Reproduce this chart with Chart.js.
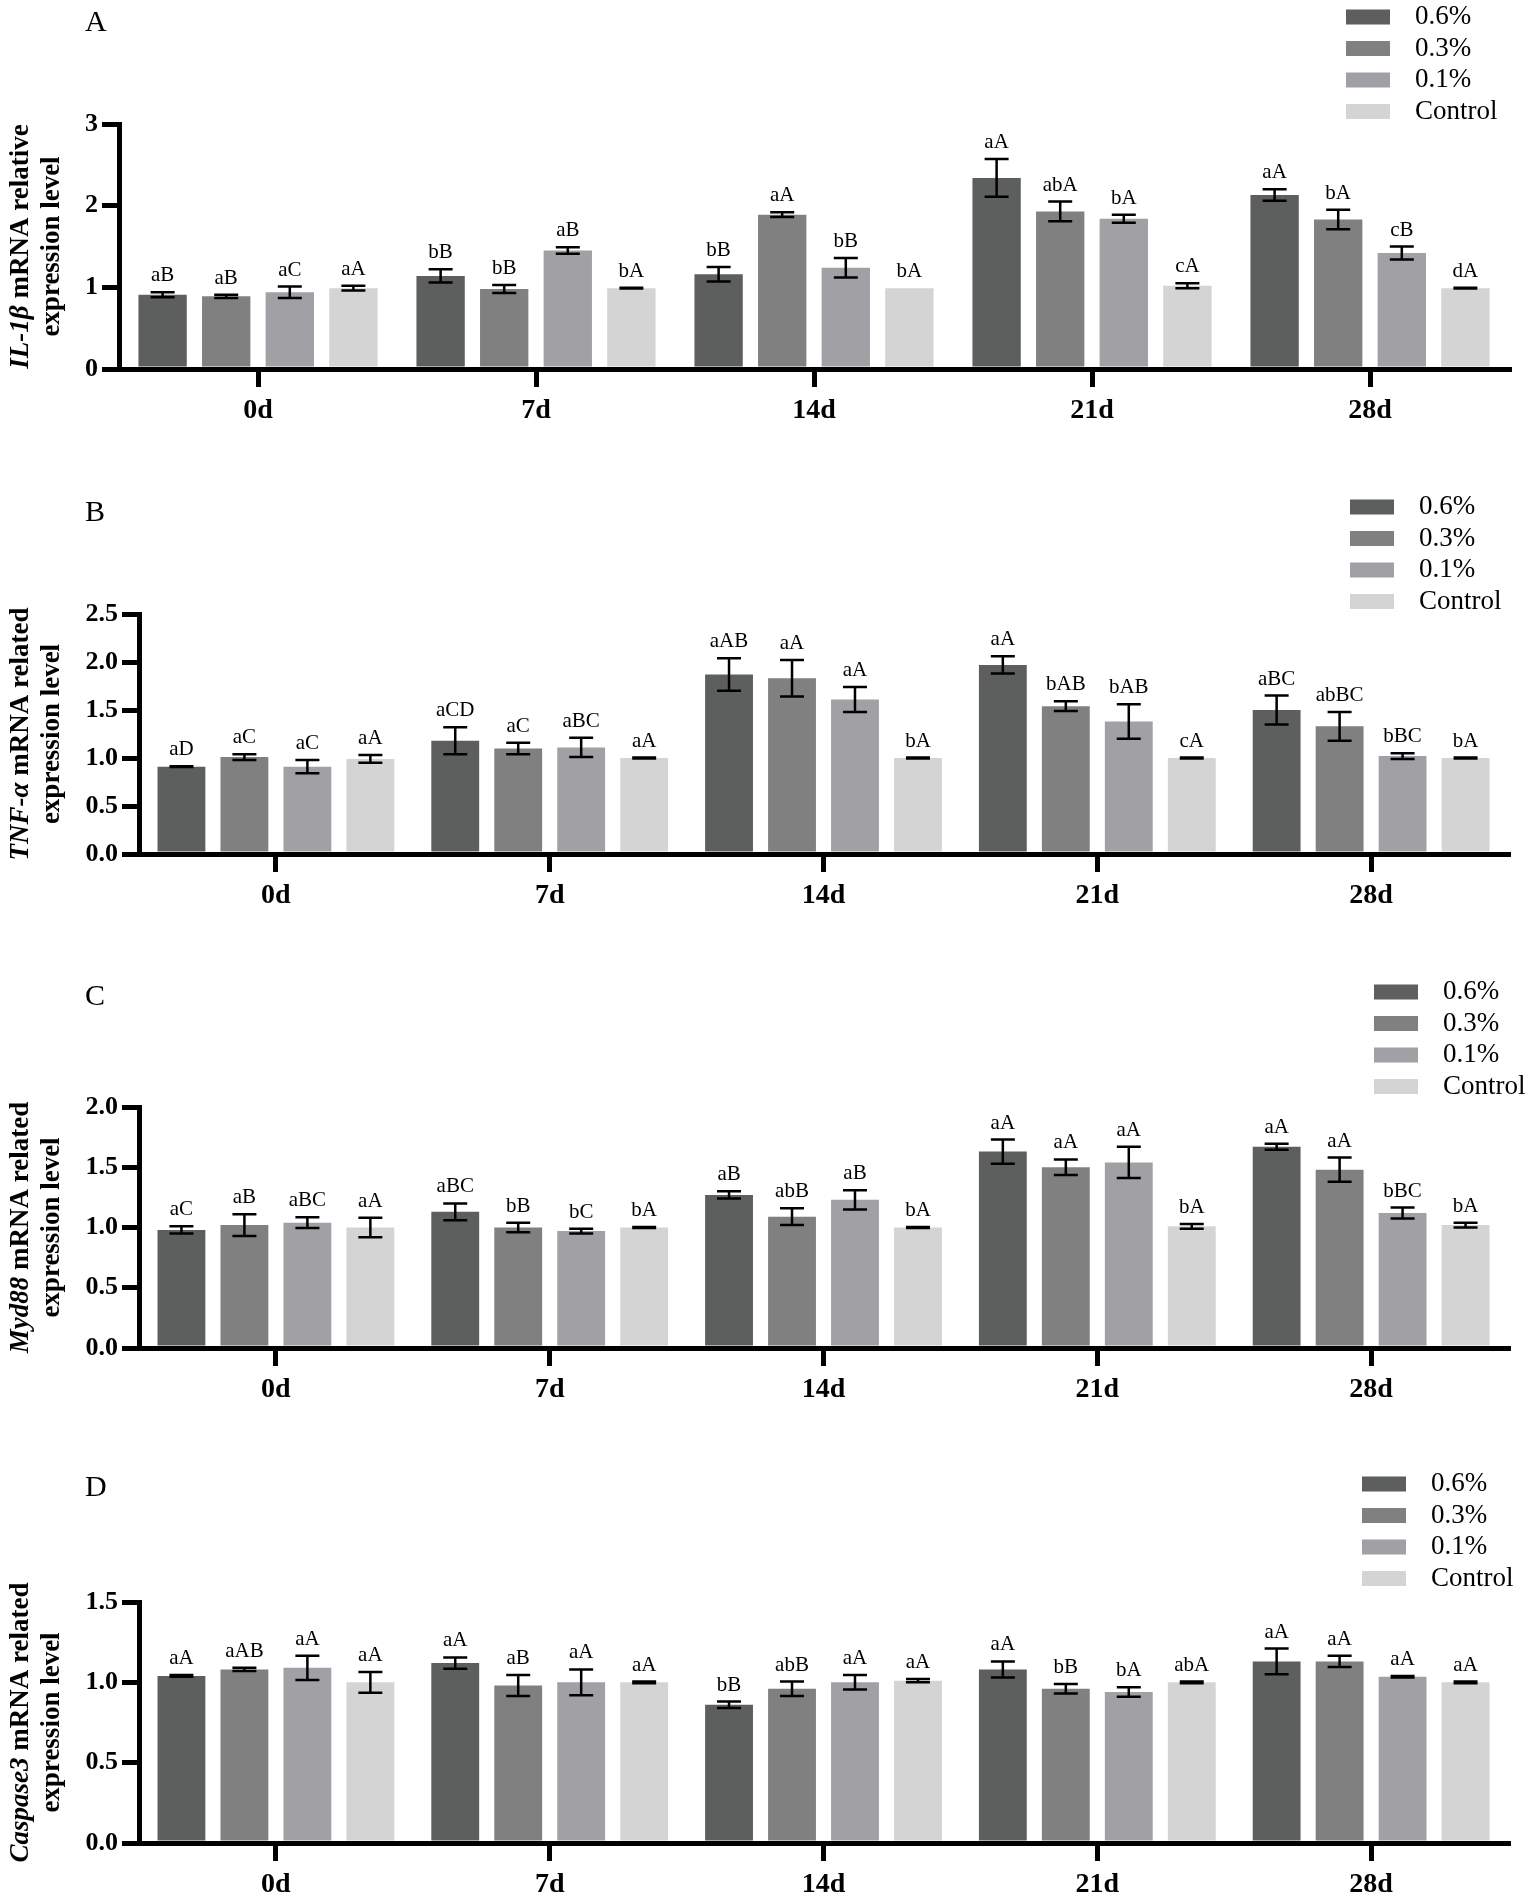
<!DOCTYPE html>
<html>
<head>
<meta charset="utf-8">
<title>IL-1β, TNF-α, Myd88, Caspase3 relative expression</title>
<script src="https://cdn.jsdelivr.net/npm/chart.js@4.4.0/dist/chart.umd.min.js"></script>
<style>
html, body { margin: 0; padding: 0; background: #fff; overflow: hidden; }
#page { position: relative; width: 1535px; height: 1898px; }
#page canvas { position: absolute; left: 0; }
</style>
</head>
<body>
<div id="page">
  <canvas id="chartA" width="1535" height="430" style="top:0px"></canvas>
  <canvas id="chartB" width="1535" height="456" style="top:464px"></canvas>
  <canvas id="chartC" width="1535" height="456" style="top:957px"></canvas>
  <canvas id="chartD" width="1535" height="446" style="top:1452px"></canvas>
</div>
<script>
var days = ['0d', '7d', '14d', '21d', '28d'];
var groups = ['0.6%', '0.3%', '0.1%', 'Control'];
var groupColors = ['#5d5f5e', '#808080', '#a1a1a5', '#d4d4d4'];

// A  IL-1β  (rows = groups, cols = days)
var il1bMean = [
  [0.91, 1.14, 1.16, 2.34, 2.13],
  [0.89, 0.98, 1.89, 1.93, 1.83],
  [0.94, 1.45, 1.24, 1.84, 1.42],
  [0.99, 0.99, 0.99, 1.02, 0.99]
];
var il1bErr = [
  [0.03, 0.08, 0.09, 0.23, 0.07],
  [0.02, 0.05, 0.03, 0.12, 0.12],
  [0.07, 0.04, 0.12, 0.05, 0.08],
  [0.03, 0.005, 0, 0.03, 0.005]
];
var il1bSig = [
  ['aB', 'bB', 'bB', 'aA', 'aA'],
  ['aB', 'bB', 'aA', 'abA', 'bA'],
  ['aC', 'aB', 'bB', 'bA', 'cB'],
  ['aA', 'bA', 'bA', 'cA', 'dA']
];
var il1bTicks = ['0', '1', '2', '3'];

// B  TNF-α
var tnfMean = [
  [0.91, 1.18, 1.87, 1.97, 1.50],
  [1.01, 1.10, 1.83, 1.54, 1.33],
  [0.91, 1.11, 1.61, 1.38, 1.02],
  [0.99, 1.00, 1.00, 1.00, 1.00]
];
var tnfErr = [
  [0.005, 0.14, 0.17, 0.09, 0.15],
  [0.03, 0.06, 0.19, 0.05, 0.15],
  [0.07, 0.10, 0.13, 0.18, 0.03],
  [0.04, 0.005, 0.005, 0.005, 0.005]
];
var tnfSig = [
  ['aD', 'aCD', 'aAB', 'aA', 'aBC'],
  ['aC', 'aC', 'aA', 'bAB', 'abBC'],
  ['aC', 'aBC', 'aA', 'bAB', 'bBC'],
  ['aA', 'aA', 'bA', 'cA', 'bA']
];
var tnfTicks = ['0.0', '0.5', '1.0', '1.5', '2.0', '2.5'];

// C  Myd88
var mydMean = [
  [0.98, 1.13, 1.27, 1.63, 1.67],
  [1.02, 1.00, 1.09, 1.50, 1.48],
  [1.04, 0.97, 1.23, 1.54, 1.12],
  [1.00, 1.00, 1.00, 1.01, 1.02]
];
var mydErr = [
  [0.03, 0.07, 0.03, 0.10, 0.025],
  [0.09, 0.04, 0.07, 0.065, 0.10],
  [0.045, 0.02, 0.08, 0.13, 0.045],
  [0.08, 0.005, 0.005, 0.02, 0.02]
];
var mydSig = [
  ['aC', 'aBC', 'aB', 'aA', 'aA'],
  ['aB', 'bB', 'abB', 'aA', 'aA'],
  ['aBC', 'bC', 'aB', 'aA', 'bBC'],
  ['aA', 'bA', 'bA', 'bA', 'bA']
];
var mydTicks = ['0.0', '0.5', '1.0', '1.5', '2.0'];

// D  Caspase3
var caspMean = [
  [1.04, 1.12, 0.86, 1.08, 1.13],
  [1.08, 0.98, 0.96, 0.96, 1.13],
  [1.09, 1.00, 1.00, 0.94, 1.035],
  [1.00, 1.00, 1.01, 1.00, 1.00]
];
var caspErr = [
  [0.005, 0.035, 0.02, 0.05, 0.08],
  [0.01, 0.065, 0.045, 0.03, 0.035],
  [0.075, 0.08, 0.045, 0.03, 0.005],
  [0.065, 0.005, 0.01, 0.005, 0.005]
];
var caspSig = [
  ['aA', 'aA', 'bB', 'aA', 'aA'],
  ['aAB', 'aB', 'abB', 'bB', 'aA'],
  ['aA', 'aA', 'aA', 'bA', 'aA'],
  ['aA', 'aA', 'aA', 'abA', 'aA']
];
var caspTicks = ['0.0', '0.5', '1.0', '1.5'];

var SERIF = '"Liberation Serif", "Times New Roman", serif';

// error bars, letters, axis title, panel letter, legend
var decoPlugin = {
  id: 'deco',
  afterDatasetsDraw: function( chart ){
    var o = chart.options.plugins.deco;
    var ctx = chart.ctx;
    var ys = chart.scales.y;
    ctx.save();
    ctx.strokeStyle = '#000';
    ctx.lineWidth = 2.5;
    ctx.fillStyle = '#000';
    ctx.font = '21px ' + SERIF;
    ctx.textAlign = 'center';
    ctx.textBaseline = 'alphabetic';
    chart.data.datasets.forEach(function( ds, i ){
      var meta = chart.getDatasetMeta( i );
      meta.data.forEach(function( bar, j ){
        var m = ds.data[j], e = o.err[i][j];
        var yt = ys.getPixelForValue( m + e );
        var yb = ys.getPixelForValue( m - e );
        if( e > 0 ){
          ctx.beginPath();
          ctx.moveTo( bar.x, yt ); ctx.lineTo( bar.x, yb );
          ctx.moveTo( bar.x - 12, yt ); ctx.lineTo( bar.x + 12, yt );
          ctx.moveTo( bar.x - 12, yb ); ctx.lineTo( bar.x + 12, yb );
          ctx.stroke();
        }
        ctx.fillText( o.sig[i][j], bar.x, yt - 11 );
      });
    });
    ctx.restore();
  },
  afterDraw: function( chart ){
    var o = chart.options.plugins.deco;
    var ctx = chart.ctx;
    var a = chart.chartArea;
    ctx.save();
    // y axis title, two lines, gene name in italics
    var cy = ( a.top + a.bottom ) / 2;
    var f1 = 'italic bold 27px ' + SERIF, f2 = 'bold 27px ' + SERIF;
    ctx.fillStyle = '#000';
    ctx.textBaseline = 'middle';
    ctx.translate( 21, cy );
    ctx.rotate( -Math.PI / 2 );
    ctx.font = f1; var w1 = ctx.measureText( o.gene ).width;
    ctx.font = f2; var w2 = ctx.measureText( o.rest ).width;
    ctx.textAlign = 'left';
    ctx.font = f1; ctx.fillText( o.gene, -( w1 + w2 ) / 2, 0 );
    ctx.font = f2; ctx.fillText( o.rest, -( w1 + w2 ) / 2 + w1, 0 );
    ctx.textAlign = 'center';
    ctx.fillText( 'expression level', 0, 31 );
    ctx.restore();

    // panel letter
    ctx.save();
    ctx.fillStyle = '#000';
    ctx.font = '30px ' + SERIF;
    ctx.textAlign = 'left';
    ctx.textBaseline = 'middle';
    ctx.fillText( o.letter, 85, a.top + o.letterY );

    // legend
    ctx.font = '27px ' + SERIF;
    chart.data.datasets.forEach(function( ds, i ){
      var y = a.top + o.legendY + i * 31.5;
      ctx.fillStyle = ds.backgroundColor;
      ctx.fillRect( o.legendX, y - 7.5, 44, 15 );
      ctx.fillStyle = '#000';
      ctx.fillText( ds.label, o.legendX + 69, y );
    });
    ctx.restore();
  }
};

function makeChart( id, p ){
  var canvas = document.getElementById( id );
  var H = canvas.height;
  return new Chart( canvas, {
    type: 'bar',
    data: {
      labels: days,
      datasets: groups.map(function( g, i ){
        return {
          label: g,
          data: p.mean[i],
          backgroundColor: groupColors[i],
          borderWidth: 0,
          categoryPercentage: p.catPct,
          barPercentage: 0.76
        };
      })
    },
    options: {
      responsive: false,
      animation: false,
      layout: { padding: { top: p.padTop, left: 0, right: 1535 - p.right, bottom: 0 } },
      plugins: {
        legend: { display: false },
        tooltip: { enabled: false },
        deco: { err: p.err, sig: p.sig, gene: p.gene, rest: p.rest, letter: p.letter,
                letterY: p.letterY, legendX: p.legendX, legendY: p.legendY }
      },
      scales: {
        x: {
          z: 1,
          grid: { display: true, drawOnChartArea: false, offset: false, tickLength: 18, lineWidth: 5, color: '#000' },
          border: { display: true, width: 5, color: '#000' },
          ticks: { font: { family: SERIF, size: 28, weight: 'bold' }, color: '#000', padding: 7, maxRotation: 0 },
          afterFit: function( s ){ s.height = H - p.padTop - p.plotH; }
        },
        y: {
          z: 1,
          min: 0,
          max: p.max,
          ticks: {
            stepSize: p.step,
            font: { family: SERIF, size: 26, weight: 'bold' },
            color: '#000',
            padding: 4,
            callback: function( v, i ){ return p.ticks[i]; }
          },
          grid: { display: true, drawOnChartArea: false, tickLength: 17, lineWidth: 5, color: '#000' },
          border: { display: true, width: 5, color: '#000' },
          afterFit: function( s ){ s.width = p.left; }
        }
      }
    },
    plugins: [ decoPlugin ]
  });
}

makeChart( 'chartA', {
  mean: il1bMean, err: il1bErr, sig: il1bSig, ticks: il1bTicks, max: 3, step: 1,
  padTop: 124, left: 119, right: 1509, plotH: 245, catPct: 0.915,
  gene: 'IL-1β', rest: ' mRNA relative', letter: 'A', letterY: -101,
  legendX: 1346, legendY: -107
});
makeChart( 'chartB', {
  mean: tnfMean, err: tnfErr, sig: tnfSig, ticks: tnfTicks, max: 2.5, step: 0.5,
  padTop: 150, left: 139, right: 1508, plotH: 240, catPct: 0.92,
  gene: 'TNF-α', rest: ' mRNA related', letter: 'B', letterY: -101,
  legendX: 1350, legendY: -107
});
makeChart( 'chartC', {
  mean: mydMean, err: mydErr, sig: mydSig, ticks: mydTicks, max: 2.0, step: 0.5,
  padTop: 150, left: 139, right: 1508, plotH: 241, catPct: 0.92,
  gene: 'Myd88', rest: ' mRNA related', letter: 'C', letterY: -110,
  legendX: 1374, legendY: -115
});
makeChart( 'chartD', {
  mean: caspMean, err: caspErr, sig: caspSig, ticks: caspTicks, max: 1.5, step: 0.5,
  padTop: 150, left: 139, right: 1508, plotH: 241, catPct: 0.92,
  gene: 'Caspase3', rest: ' mRNA related', letter: 'D', letterY: -114,
  legendX: 1362, legendY: -118
});
</script>
</body>
</html>
